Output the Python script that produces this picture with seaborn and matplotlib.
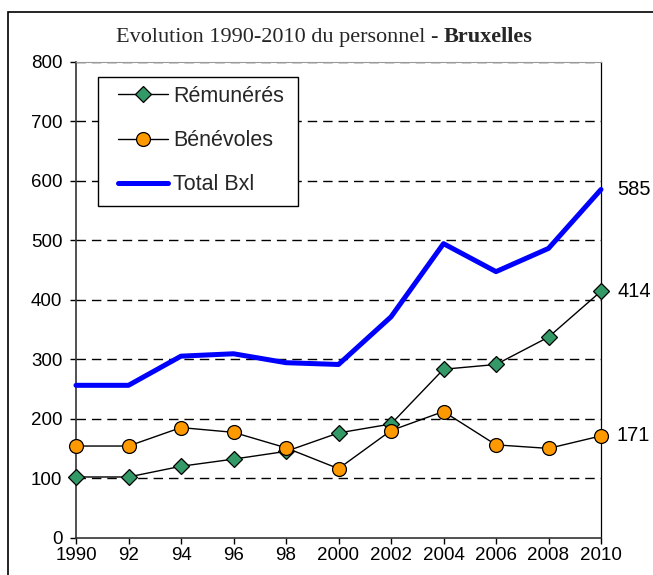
import matplotlib
matplotlib.use("Agg")
import matplotlib.pyplot as plt
from matplotlib.lines import Line2D
from matplotlib.patches import Rectangle
import seaborn as sns
import pandas as pd

# Staff headcount, Brussels, every two years
years = [1990, 1992, 1994, 1996, 1998, 2000, 2002, 2004, 2006, 2008, 2010]
year_labels = ["1990", "92", "94", "96", "98", "2000", "2002", "2004", "2006", "2008", "2010"]
remuneres = [102, 102, 120, 132, 145, 176, 191, 283, 291, 337, 414]
benevoles = [154, 154, 185, 177, 151, 116, 180, 212, 156, 150, 171]
total_bxl = [256, 256, 305, 309, 294, 291, 371, 494, 447, 486, 585]
series_names = ["Rémunérés", "Bénévoles", "Total Bxl"]

df = pd.DataFrame({"year": years, "Rémunérés": remuneres,
                   "Bénévoles": benevoles, "Total Bxl": total_bxl})

sns.set_theme(style="white")
plt.rcParams["font.family"] = ["Liberation Sans", "DejaVu Sans"]

W, H = 653, 575
fig = plt.figure(figsize=(W / 100, H / 100), dpi=100)
# plot area in pixels: x 76..601, y 61.5..537.7
ax = fig.add_axes([76 / W, 1 - 537.7 / H, (601 - 76) / W, (537.7 - 61.5) / H])

GREEN, ORANGE, BLUE = "#339966", "#FF9900", "#0000FF"
D_MS, O_MS = 8.6, 10

sns.lineplot(data=df, x="year", y="Total Bxl", ax=ax, color=BLUE, lw=3.6,
             zorder=3, clip_on=False)
sns.lineplot(data=df, x="year", y="Rémunérés", ax=ax, color="black", lw=1.0,
             marker="D", markersize=D_MS, markerfacecolor=GREEN,
             markeredgecolor="black", markeredgewidth=0.9, zorder=4, clip_on=False)
sns.lineplot(data=df, x="year", y="Bénévoles", ax=ax, color="black", lw=1.0,
             marker="o", markersize=O_MS, markerfacecolor=ORANGE,
             markeredgecolor="black", markeredgewidth=0.9, zorder=5, clip_on=False)

ax.set_xlim(1990, 2010)
ax.set_ylim(0, 800)
ax.set_xticks(years)
ax.set_xticklabels(year_labels)
ax.set_yticks(range(0, 801, 100))
ax.set_xlabel("")
ax.set_ylabel("")
ax.tick_params(axis="both", labelsize=13.5, colors="black", width=1,
               direction="out")
ax.tick_params(axis="x", bottom=True, length=4, pad=3)
ax.tick_params(axis="y", left=True, length=4.3, pad=5.5)

# Dashed horizontal gridlines
for v in range(100, 801, 100):
    ax.axhline(v, color="black", lw=1.0, ls=(0, (6.8, 4.3)), zorder=1)

for side in ["left", "bottom"]:
    ax.spines[side].set_color("#333333")
    ax.spines[side].set_linewidth(1.2)
ax.spines["right"].set_color("black")
ax.spines["right"].set_linewidth(0.9)
ax.spines["top"].set_color("#999999")
ax.spines["top"].set_linewidth(0.8)

# End-of-series values
for vals in (total_bxl, remuneres, benevoles):
    ax.annotate(str(vals[-1]), xy=(years[-1], vals[-1]), xytext=(16, 0),
                textcoords="offset pixels", va="center", ha="left",
                fontsize=14.5, color="black", annotation_clip=False)

handles = [
    Line2D([], [], color="black", lw=1.0, marker="D", markersize=D_MS,
           markerfacecolor=GREEN, markeredgecolor="black", markeredgewidth=0.9),
    Line2D([], [], color="black", lw=1.0, marker="o", markersize=O_MS,
           markerfacecolor=ORANGE, markeredgecolor="black", markeredgewidth=0.9),
    Line2D([], [], color=BLUE, lw=3.6),
]
LEG_FS = 15.5
leg = fig.legend(handles, series_names, loc="upper left",
                 bbox_to_anchor=(118 / W, 1 - 86 / H),
                 bbox_transform=fig.transFigure, borderaxespad=0,
                 borderpad=0, fontsize=LEG_FS, frameon=False,
                 handlelength=50 / (LEG_FS * 100 / 72),
                 handletextpad=5 / (LEG_FS * 100 / 72), labelspacing=1.07)
leg.set_zorder(10)
# Legend box
fig.patches.append(Rectangle((98 / W, 1 - 206 / H), 200 / W, 129 / H,
                             transform=fig.transFigure, facecolor="white",
                             edgecolor="black", lw=1.0, zorder=9))

# Outer frame around the chart
fig.patches.append(Rectangle((8 / W, -0.1), 1.2, 1 - 12 / H + 0.1,
                             transform=fig.transFigure, fill=False,
                             edgecolor="black", lw=1.2))

# Title with bold place name
fig.canvas.draw()
renderer = fig.canvas.get_renderer()
tfont = ["Liberation Serif", "DejaVu Serif"]
part1 = fig.text(0, 1 - 42 / H, "Evolution 1990-2010 du personnel - ",
                 fontsize=16, family=tfont, ha="left", va="baseline")
part2 = fig.text(0, 1 - 42 / H, "Bruxelles", fontsize=16, family=tfont,
                 weight="bold", ha="left", va="baseline")
w1 = part1.get_window_extent(renderer).width
w2 = part2.get_window_extent(renderer).width
x0 = 324.5 - (w1 + w2) / 2
part1.set_x(x0 / W)
part2.set_x((x0 + w1) / W)

fig.savefig("out.png", dpi=100)
